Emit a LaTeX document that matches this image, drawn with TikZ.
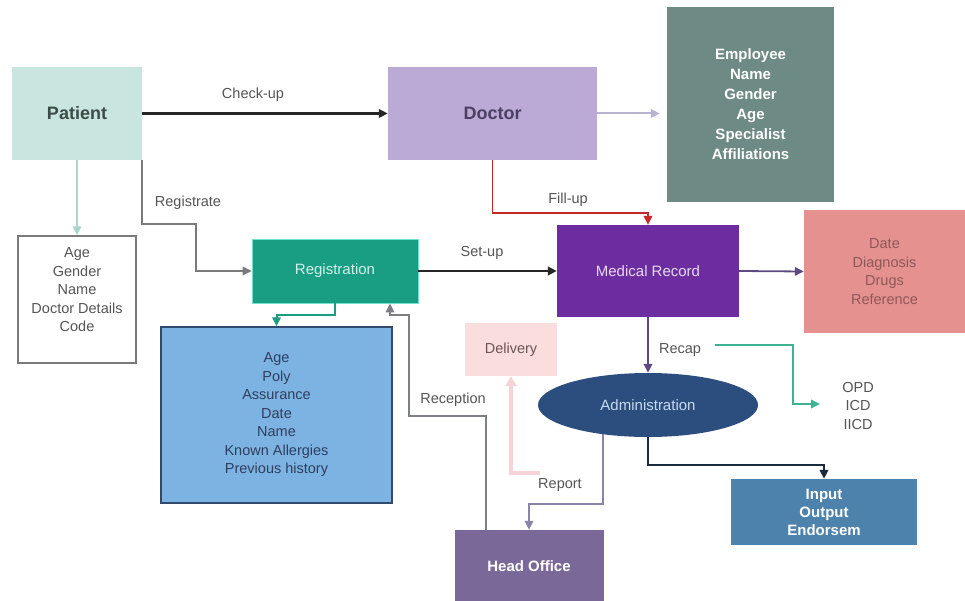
\documentclass[tikz,border=0pt]{standalone}
\usepackage{fontspec}
\setmainfont{Liberation Sans}
\usetikzlibrary{arrows.meta,calc,shapes.geometric}
\definecolor{patientc}{HTML}{C8E6DF}
\definecolor{patienttxt}{HTML}{3C4A48}
\definecolor{doctorc}{HTML}{BBA9D6}
\definecolor{doctortxt}{HTML}{4B3F63}
\definecolor{employeec}{HTML}{6E8A84}
\definecolor{regc}{HTML}{1A9E83}
\definecolor{regborder}{HTML}{6FE3CF}
\definecolor{regtxt}{HTML}{CFF2EA}
\definecolor{bluec}{HTML}{7DB3E3}
\definecolor{blueborder}{HTML}{2F4A6B}
\definecolor{bluetxt}{HTML}{2F3E5E}
\definecolor{medc}{HTML}{6B2D9F}
\definecolor{medtxt}{HTML}{E8DAF3}
\definecolor{datec}{HTML}{E4918F}
\definecolor{datetxt}{HTML}{8F5858}
\definecolor{deliveryc}{HTML}{FADEDE}
\definecolor{deliverytxt}{HTML}{6B5555}
\definecolor{adminc}{HTML}{2B4E7E}
\definecolor{admintxt}{HTML}{C6DAF2}
\definecolor{headc}{HTML}{7A6898}
\definecolor{inputc}{HTML}{4C82AC}
\definecolor{labelc}{HTML}{555555}
\definecolor{agebord}{HTML}{7A7A7A}
\definecolor{checkc}{HTML}{262626}
\definecolor{regarr}{HTML}{7A7A7A}
\definecolor{tealarr}{HTML}{A9D5CB}
\definecolor{docarr}{HTML}{B8B3CF}
\definecolor{fillarr}{HTML}{C62828}
\definecolor{medarr}{HTML}{5D4A80}
\definecolor{codearr}{HTML}{3DB391}
\definecolor{pinkarr}{HTML}{F6D3D8}
\definecolor{reportarr}{HTML}{8A84A8}
\definecolor{inarr}{HTML}{1C2A3E}
\definecolor{recepc}{HTML}{7E7E86}
\tikzset{
  boxnode/.style={rectangle, inner sep=0pt, align=center},
  lbl/.style={font=\fontsize{14.5}{18.5}\selectfont, text=labelc, align=center, inner sep=0pt},
  ttl/.style={font=\bfseries\fontsize{18}{22}\selectfont},
  btxt/.style={font=\bfseries\fontsize{15}{19}\selectfont},
  arr/.style={-{Triangle[length=9pt,width=8.5pt]}, line width=1.8pt},
}
\begin{document}
\begin{tikzpicture}[x=1pt,y=-1pt]
\useasboundingbox (0,0) rectangle (965,601);
\fill[white] (0,0) rectangle (965,601);
% nodes
\node[boxnode, fill=patientc, minimum width=130pt, minimum height=93pt, ttl, text=patienttxt] (patient) at (77,113.5) {Patient};
\node[boxnode, fill=doctorc, minimum width=209pt, minimum height=93pt, ttl, text=doctortxt] (doctor) at (492.5,113.5) {Doctor};
\node[boxnode, fill=employeec, minimum width=167pt, minimum height=195pt, text=white, font=\bfseries\fontsize{15}{20}\selectfont] (employee) at (750.5,104.5) {Employee\\Name\\Gender\\Age\\Specialist\\Affiliations};
\node[boxnode, draw=agebord, line width=1.4pt, fill=white, minimum width=118pt, minimum height=127pt] (agebox) at (77,299.5) {};
\node[lbl] (agetext) at (77,290) {Age\\Gender\\Name\\Doctor Details\\Code};
\node[boxnode, fill=regc, draw=regborder, line width=0.8pt, minimum width=166pt, minimum height=64pt, font=\fontsize{15}{18}\selectfont, text=regtxt] (registration) at (335,271) {Registration};
\node[boxnode, fill=bluec, draw=blueborder, line width=1.5pt, minimum width=231pt, minimum height=176pt, font=\fontsize{14.5}{18.5}\selectfont, text=bluetxt] (bluebox) at (276.5,415) {Age\\Poly\\Assurance\\Date\\Name\\Known Allergies\\Previous history};
\node[boxnode, fill=medc, minimum width=182pt, minimum height=92pt, font=\fontsize{15}{18}\selectfont, text=medtxt] (medrec) at (648,271) {Medical Record};
\node[boxnode, fill=datec, minimum width=161pt, minimum height=123pt, font=\fontsize{14.5}{18.5}\selectfont, text=datetxt] (datebox) at (884.5,271.5) {Date\\Diagnosis\\Drugs\\Reference};
\node[boxnode, fill=deliveryc, minimum width=92pt, minimum height=53pt, font=\fontsize{14.5}{18}\selectfont, text=deliverytxt] (delivery) at (511,349.5) {Delivery};
\node[ellipse, inner sep=0pt, fill=adminc, minimum width=220pt, minimum height=64pt, font=\fontsize{15}{18}\selectfont, text=admintxt] (admin) at (648,405) {Administration};
\node[boxnode, fill=headc, minimum width=149pt, minimum height=72pt, btxt, text=white] (headoffice) at (529,566) {Head Office};
\node[boxnode, fill=inputc, minimum width=186pt, minimum height=66pt, font=\bfseries\fontsize{15}{18}\selectfont, text=white] (inputbox) at (824,512) {Input\\Output\\Endorsem};
\node[lbl] (codes) at (858,406) {OPD\\ICD\\IICD};
% connector labels
\node[lbl] (lcheck) at (253,95) {Check-up};
\node[lbl] (lregistrate) at (188,203) {Registrate};
\node[lbl] (lfill) at (568,200) {Fill-up};
\node[lbl] (lsetup) at (482,253) {Set-up};
\node[lbl] (lrecap) at (680,350) {Recap};
\node[lbl] (lreception) at (453,400) {Reception};
\node[lbl] (lreport) at (560,485) {Report};
% free-end coordinates
\coordinate (codestart) at (715,345);
\coordinate (codeend) at (820,404);
\coordinate (pinkstart) at (540,473);
% connectors
\draw[arr, checkc, line width=2.2pt] (patient.east) -- (doctor.west);
\draw[arr, regarr, line width=1.5pt] (patient.south east) |- (196,224) |- (registration.west);
\draw[arr, tealarr, line width=1.8pt] (patient.south) -- (agebox.north);
\draw[arr, docarr, line width=2pt, shorten >=7pt] (doctor.east) -- (employee.west |- doctor.east);
\draw[arr, fillarr, line width=1.8pt] (doctor.south) |- ($(medrec.north)+(0,-12)$) -- (medrec.north);
\draw[arr, checkc, line width=2.2pt] (registration.east) -- (medrec.west);
\draw[arr, medarr] (medrec.east) -- (datebox.west);
\draw[arr, medarr] (medrec.south) -- (admin.north);
\draw[arr, codearr] (codestart) -| (793,404) -- (codeend);
\draw[arr, regc, line width=2pt] (registration.south) -- ++(0,12) -| (bluebox.north);
\draw[arr, recepc, line width=1.8pt] ([xshift=-43pt]headoffice.north) |- (409,416) |- (390,315) -- ([xshift=55pt]registration.south);
\draw[arr, pinkarr, line width=4pt, -{Triangle[length=10pt,width=11pt]}] (pinkstart) -| (delivery.south);
\draw[arr, reportarr] (admin.213) |- ($(headoffice.north)+(0,-26)$) -- (headoffice.north);
\draw[arr, inarr, line width=2pt] (admin.south) |- ($(inputbox.north)+(0,-14)$) -- (inputbox.north);
\end{tikzpicture}
\end{document}
